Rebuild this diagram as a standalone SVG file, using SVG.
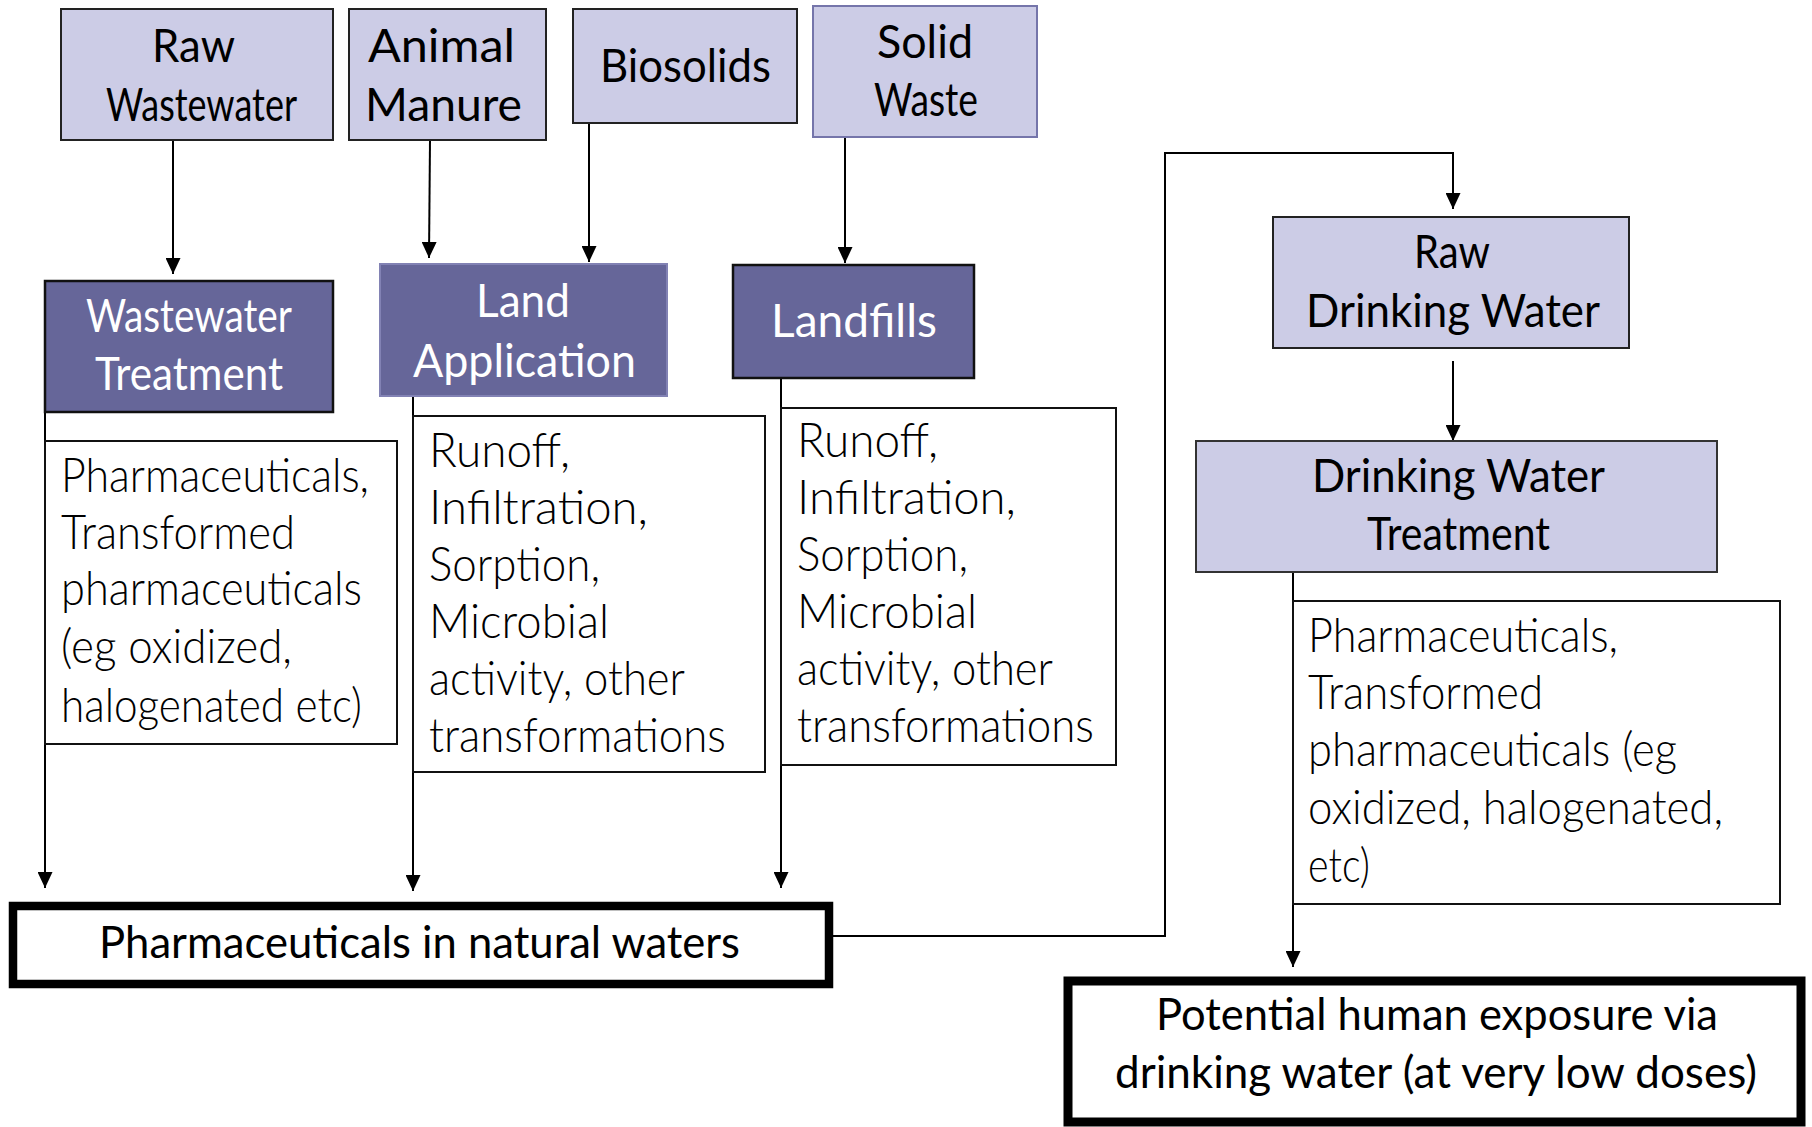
<svg xmlns="http://www.w3.org/2000/svg" width="1812" height="1127" viewBox="0 0 1812 1127">
<style>
.light{fill:#CCCCE6;stroke:#222;stroke-width:2}
.dark{fill:#666699;stroke:#111;stroke-width:2.5}
.note{fill:#fff;stroke:#111;stroke-width:2}
.big{fill:#fff;stroke:#000}
.h{font-family:Lato,"Liberation Sans",sans-serif;font-size:46px;fill:#000}
.hw{font-family:Lato,"Liberation Sans",sans-serif;font-size:46px;fill:#fff}
.n{font-family:Lato,"Liberation Sans",sans-serif;font-weight:300;font-size:47px;fill:#000}
.b{font-family:Lato,"Liberation Sans",sans-serif;font-size:44px;fill:#000}
.c{fill:none;stroke:#000;stroke-width:2}
</style>
<defs>
<marker id="ah" markerUnits="userSpaceOnUse" markerWidth="16" markerHeight="15" refX="16" refY="7.5" orient="auto">
<path d="M0,0 L16,7.5 L0,15 z" fill="#000"/>
</marker>
</defs>

<g id="connectors">
<path class="c" d="M173,140 L173,274" marker-end="url(#ah)"/>
<path class="c" d="M430,140 L429,258" marker-end="url(#ah)"/>
<path class="c" d="M589,123 L589,262" marker-end="url(#ah)"/>
<path class="c" d="M845,137 L845,263" marker-end="url(#ah)"/>
<path class="c" d="M45,412 L45,888" marker-end="url(#ah)"/>
<path class="c" d="M413,396 L413,891" marker-end="url(#ah)"/>
<path class="c" d="M781,378 L781,888" marker-end="url(#ah)"/>
<path class="c" d="M833,936 L1165,936 L1165,153 L1453,153 L1453,209" marker-end="url(#ah)"/>
<path class="c" d="M1453,361 L1453,441" marker-end="url(#ah)"/>
<path class="c" d="M1293,572 L1293,967" marker-end="url(#ah)"/>
</g>

<g id="raw-wastewater">
<rect class="light" x="61" y="9" width="272" height="131"/>
<text class="h" x="152" y="62" textLength="83" lengthAdjust="spacingAndGlyphs">Raw</text>
<text class="h" x="106" y="121" textLength="191" lengthAdjust="spacingAndGlyphs">Wastewater</text>
</g>

<g id="animal-manure">
<rect class="light" x="349" y="9" width="197" height="131"/>
<text class="h" x="368" y="62" textLength="147" lengthAdjust="spacingAndGlyphs">Animal</text>
<text class="h" x="365" y="121" textLength="157" lengthAdjust="spacingAndGlyphs">Manure</text>
</g>

<g id="biosolids">
<rect class="light" x="573" y="9" width="224" height="114"/>
<text class="h" x="600" y="82" textLength="171" lengthAdjust="spacingAndGlyphs">Biosolids</text>
</g>

<g id="solid-waste">
<rect class="light" x="813" y="6" width="224" height="131" style="stroke:#7575AA"/>
<text class="h" x="877" y="58" textLength="96" lengthAdjust="spacingAndGlyphs">Solid</text>
<text class="h" x="874" y="116" textLength="104" lengthAdjust="spacingAndGlyphs">Waste</text>
</g>

<g id="wastewater-treatment">
<rect class="dark" x="45" y="281" width="288" height="131"/>
<text class="hw" x="86" y="332" textLength="206" lengthAdjust="spacingAndGlyphs">Wastewater</text>
<text class="hw" x="95" y="390" textLength="188" lengthAdjust="spacingAndGlyphs">Treatment</text>
</g>

<g id="land-application">
<rect class="dark" x="380" y="264" width="287" height="132" style="stroke:#8282B4;stroke-width:2"/>
<text class="hw" x="476" y="317" textLength="94" lengthAdjust="spacingAndGlyphs">Land</text>
<text class="hw" x="413" y="377" textLength="223" lengthAdjust="spacingAndGlyphs">Application</text>
</g>

<g id="landfills">
<rect class="dark" x="733" y="265" width="241" height="113"/>
<text class="hw" x="771" y="337" textLength="166" lengthAdjust="spacingAndGlyphs">Landfills</text>
</g>

<g id="raw-drinking-water">
<rect class="light" x="1273" y="217" width="356" height="131"/>
<text class="h" x="1414" y="268" textLength="76" lengthAdjust="spacingAndGlyphs">Raw</text>
<text class="h" x="1306" y="327" textLength="294" lengthAdjust="spacingAndGlyphs">Drinking Water</text>
</g>

<g id="drinking-water-treatment">
<rect class="light" x="1196" y="441" width="521" height="131" style="stroke:#333"/>
<text class="h" x="1312" y="492" textLength="293" lengthAdjust="spacingAndGlyphs">Drinking Water</text>
<text class="h" x="1367" y="550" textLength="183" lengthAdjust="spacingAndGlyphs">Treatment</text>
</g>

<g id="wwt-notes">
<rect class="note" x="45" y="441" width="352" height="303"/>
<text class="n" x="61" y="492" textLength="308" lengthAdjust="spacingAndGlyphs">Pharmaceuticals,</text>
<text class="n" x="61" y="549" textLength="234" lengthAdjust="spacingAndGlyphs">Transformed</text>
<text class="n" x="61" y="605" textLength="301" lengthAdjust="spacingAndGlyphs">pharmaceuticals</text>
<text class="n" x="61" y="663" textLength="231" lengthAdjust="spacingAndGlyphs">(eg oxidized,</text>
<text class="n" x="61" y="722" textLength="301" lengthAdjust="spacingAndGlyphs">halogenated etc)</text>
</g>

<g id="land-notes">
<rect class="note" x="413" y="416" width="352" height="356"/>
<text class="n" x="429" y="467" textLength="141" lengthAdjust="spacingAndGlyphs">Runoff,</text>
<text class="n" x="429" y="524" textLength="219" lengthAdjust="spacingAndGlyphs">Infiltration,</text>
<text class="n" x="429" y="581" textLength="171" lengthAdjust="spacingAndGlyphs">Sorption,</text>
<text class="n" x="429" y="638" textLength="180" lengthAdjust="spacingAndGlyphs">Microbial</text>
<text class="n" x="429" y="695" textLength="256" lengthAdjust="spacingAndGlyphs">activity, other</text>
<text class="n" x="429" y="752" textLength="297" lengthAdjust="spacingAndGlyphs">transformations</text>
</g>

<g id="landfill-notes">
<rect class="note" x="781" y="408" width="335" height="357"/>
<text class="n" x="797" y="457" textLength="141" lengthAdjust="spacingAndGlyphs">Runoff,</text>
<text class="n" x="797" y="514" textLength="219" lengthAdjust="spacingAndGlyphs">Infiltration,</text>
<text class="n" x="797" y="571" textLength="171" lengthAdjust="spacingAndGlyphs">Sorption,</text>
<text class="n" x="797" y="628" textLength="180" lengthAdjust="spacingAndGlyphs">Microbial</text>
<text class="n" x="797" y="685" textLength="256" lengthAdjust="spacingAndGlyphs">activity, other</text>
<text class="n" x="797" y="742" textLength="297" lengthAdjust="spacingAndGlyphs">transformations</text>
</g>

<g id="dwt-notes">
<rect class="note" x="1293" y="601" width="487" height="303"/>
<text class="n" x="1308" y="652" textLength="310" lengthAdjust="spacingAndGlyphs">Pharmaceuticals,</text>
<text class="n" x="1308" y="709" textLength="235" lengthAdjust="spacingAndGlyphs">Transformed</text>
<text class="n" x="1308" y="766" textLength="369" lengthAdjust="spacingAndGlyphs">pharmaceuticals (eg</text>
<text class="n" x="1308" y="824" textLength="415" lengthAdjust="spacingAndGlyphs">oxidized, halogenated,</text>
<text class="n" x="1308" y="882" textLength="62" lengthAdjust="spacingAndGlyphs">etc)</text>
</g>

<g id="natural-waters">
<rect class="big" x="13" y="906" width="816" height="78" style="stroke-width:8.5"/>
<text class="b" x="99" y="958" textLength="641" lengthAdjust="spacingAndGlyphs">Pharmaceuticals in natural waters</text>
</g>

<g id="human-exposure">
<rect class="big" x="1068" y="981" width="733" height="141" style="stroke-width:9"/>
<text class="b" x="1156" y="1030" textLength="562" lengthAdjust="spacingAndGlyphs">Potential human exposure via</text>
<text class="b" x="1115" y="1088" textLength="642" lengthAdjust="spacingAndGlyphs">drinking water (at very low doses)</text>
</g>
</svg>
